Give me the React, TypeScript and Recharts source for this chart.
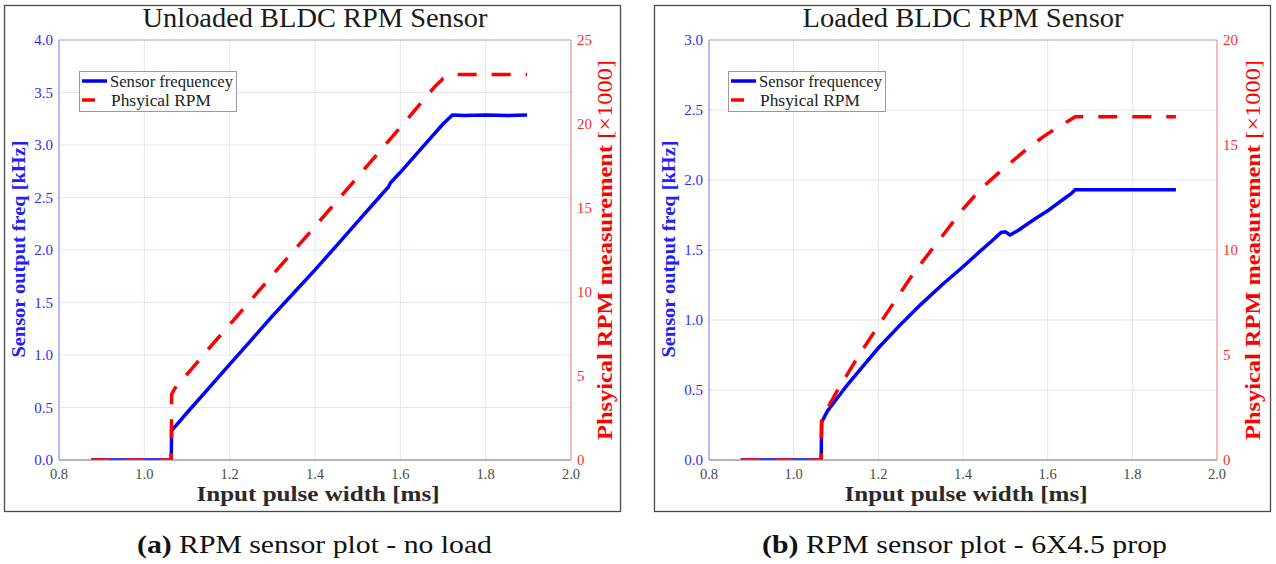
import React from 'react';
import { LineChart, Line, XAxis, YAxis, CartesianGrid, Legend, ReferenceLine } from 'recharts';

const SERIF = "'Liberation Serif', 'DejaVu Serif', serif";

// ---------- shared ----------
const xTicks = [0.8, 1.0, 1.2, 1.4, 1.6, 1.8, 2.0];
const legendLabels = ['Sensor frequencey', 'Phsyical RPM'];

// ---------- panel (a): unloaded ----------
const freqPwA = [0.875, 0.95, 1.0, 1.063, 1.064, 1.1, 1.15, 1.2, 1.25, 1.3, 1.35, 1.4, 1.45, 1.5, 1.55, 1.572, 1.577, 1.6, 1.65, 1.7, 1.722, 1.75, 1.8, 1.85, 1.897];
const freqA = [0, 0, 0, 0, 0.28, 0.45, 0.68, 0.91, 1.14, 1.37, 1.59, 1.81, 2.04, 2.27, 2.5, 2.6, 2.64, 2.74, 2.97, 3.2, 3.285, 3.28, 3.285, 3.28, 3.285];
const rpmPwA = [0.875, 0.95, 1.0, 1.063, 1.064, 1.07, 1.08, 1.1, 1.15, 1.2, 1.3, 1.4, 1.5, 1.6, 1.65, 1.68, 1.7, 1.72, 1.8, 1.897];
const rpmA = [0, 0, 0, 0, 3.9, 4.2, 4.55, 5.1, 6.6, 8.05, 11.0, 13.9, 16.85, 19.8, 21.3, 22.2, 22.7, 22.95, 22.95, 22.95];
const leftTicksA = [0, 0.5, 1.0, 1.5, 2.0, 2.5, 3.0, 3.5, 4.0];
const rightTicksA = [0, 5, 10, 15, 20, 25];

// ---------- panel (b): loaded ----------
const freqPwB = [0.875, 0.95, 1.0, 1.065, 1.066, 1.08, 1.1, 1.125, 1.15, 1.2, 1.25, 1.3, 1.35, 1.4, 1.44, 1.47, 1.49, 1.5, 1.511, 1.53, 1.566, 1.6, 1.645, 1.655, 1.665, 1.7, 1.8, 1.903];
const freqB = [0, 0, 0, 0, 0.27, 0.35, 0.43, 0.53, 0.62, 0.8, 0.96, 1.11, 1.25, 1.38, 1.49, 1.57, 1.625, 1.63, 1.607, 1.64, 1.714, 1.78, 1.88, 1.9, 1.93, 1.93, 1.93, 1.93];
const rpmPwB = [0.875, 0.95, 1.0, 1.065, 1.066, 1.082, 1.1, 1.157, 1.204, 1.283, 1.362, 1.4, 1.44, 1.48, 1.511, 1.55, 1.59, 1.62, 1.645, 1.665, 1.7, 1.8, 1.903];
const rpmB = [0, 0, 0, 0, 1.95, 2.54, 3.2, 5.08, 6.51, 8.89, 10.95, 11.95, 12.86, 13.6, 14.13, 14.8, 15.4, 15.8, 16.1, 16.35, 16.35, 16.35, 16.35];
const leftTicksB = [0, 0.5, 1.0, 1.5, 2.0, 2.5, 3.0];
const rightTicksB = [0, 5, 10, 15, 20];

const toRows = (xs: number[], ys: number[]) => xs.map((x, i) => ({ pw: x, v: ys[i] }));

type PanelProps = {
  left: number;
  title: string;
  titleLen: number;
  titleX: number;
  capTag: string;
  capText: string;
  capX: number;
  capLen: number;
  freq: { pw: number; v: number }[];
  rpm: { pw: number; v: number }[];
  leftTicks: number[];
  rightTicks: number[];
  leftW: number;
  rightMargin: number;
  boxX: number;
  yLabelX: number;
  rLabelX: number;
  xLabelX: number;
  legendX: number;
};

const LegendBox = () => (
  <svg width={159} height={42} style={{ display: 'block' }}>
    <rect x={0.5} y={0.5} width={157} height={40} fill="#ffffff" stroke="#9a9a9a" strokeWidth={1} />
    <line x1={3} x2={28} y1={10} y2={10} stroke="#0000ff" strokeWidth={3.5} />
    <text x={31} y={15.5} fontFamily={SERIF} fontSize={17} fill="#222" textLength={123} lengthAdjust="spacingAndGlyphs">{legendLabels[0]}</text>
    <line x1={3} x2={16} y1={29} y2={29} stroke="#ff0000" strokeWidth={3.5} />
    <text x={32} y={34.5} fontFamily={SERIF} fontSize={17} fill="#222" textLength={100} lengthAdjust="spacingAndGlyphs">{legendLabels[1]}</text>
  </svg>
);

const Panel = (p: PanelProps) => {
  const W = 638;
  const H = 564;
  const leftMax = p.leftTicks[p.leftTicks.length - 1];
  return (
    <div style={{ position: 'absolute', left: p.left, top: 0, width: W, height: H }}>
      <LineChart width={W} height={H} margin={{ top: 40, right: p.rightMargin, bottom: 74, left: 0 }}>
        <rect x={p.boxX} y={5.5} width={616} height={506} fill="none" stroke="#4a4a4a" strokeWidth={1.3} />
        <CartesianGrid yAxisId="left" vertical={false} stroke="#e3e3fa" />
        <CartesianGrid yAxisId="left" horizontal={false} stroke="#e6e6ec" />
        <XAxis
          dataKey="pw"
          type="number"
          domain={[0.8, 2.0]}
          ticks={xTicks}
          allowDataOverflow
          tickFormatter={(v: number) => v.toFixed(1)}
          height={30}
          tickLine={false}
          tickSize={0}
          tickMargin={9}
          axisLine={{ stroke: '#7a7a7a' }}
          tick={{ fill: '#4a4a4a', fontSize: 14.5, fontFamily: SERIF }}
        />
        <YAxis
          yAxisId="left"
          orientation="left"
          type="number"
          domain={[0, leftMax]}
          ticks={p.leftTicks}
          allowDataOverflow
          tickFormatter={(v: number) => v.toFixed(1)}
          width={p.leftW}
          tickLine={false}
          tickSize={0}
          tickMargin={6}
          axisLine={{ stroke: '#8080ff' }}
          tick={{ fill: '#2b2bff', fontSize: 15, fontFamily: SERIF }}
        />
        <YAxis
          yAxisId="right"
          orientation="right"
          type="number"
          domain={[0, p.rightTicks[p.rightTicks.length - 1]]}
          ticks={p.rightTicks}
          allowDataOverflow
          width={55}
          tickLine={false}
          tickSize={0}
          tickMargin={6}
          axisLine={{ stroke: '#ff8080' }}
          tick={{ fill: '#ff2b2b', fontSize: 15, fontFamily: SERIF }}
        />
        <ReferenceLine yAxisId="left" y={leftMax} stroke="#b0b0b0" />
        <Line yAxisId="left" data={p.freq} dataKey="v" type="linear" stroke="#0000ff" strokeWidth={3.5} dot={false} activeDot={false} isAnimationActive={false} />
        <Line yAxisId="right" data={p.rpm} dataKey="v" type="linear" stroke="#ff0000" strokeWidth={3.5} strokeDasharray="19 15" dot={false} activeDot={false} isAnimationActive={false} />
        <Legend
          content={() => <LegendBox />}
          layout="horizontal"
          verticalAlign="middle"
          align="center"
          wrapperStyle={{ left: p.legendX, top: 71, width: 159, height: 42 }}
        />
        <text x={p.titleX} y={27} textAnchor="middle" fontFamily={SERIF} fontSize={27} fill="#1a1a1a" textLength={p.titleLen} lengthAdjust="spacingAndGlyphs">{p.title}</text>
        <text
          x={p.yLabelX}
          y={249}
          transform={`rotate(-90, ${p.yLabelX}, 249)`}
          textAnchor="middle"
          dominantBaseline="central"
          fontFamily={SERIF}
          fontWeight="bold"
          fontSize={19}
          fill="#2020ff"
          textLength={217}
          lengthAdjust="spacingAndGlyphs"
        >
          Sensor output freq [kHz]
        </text>
        <text
          x={p.rLabelX}
          y={250}
          transform={`rotate(-90, ${p.rLabelX}, 250)`}
          textAnchor="middle"
          dominantBaseline="central"
          fontFamily={SERIF}
          fontSize={21}
          fill="#ff0000"
          textLength={380}
          lengthAdjust="spacingAndGlyphs"
        >
          <tspan fontWeight="bold">Phsyical RPM measurement</tspan>
          <tspan> [×1000]</tspan>
        </text>
        <text x={p.xLabelX} y={501} textAnchor="middle" fontFamily={SERIF} fontWeight="bold" fontSize={21} fill="#2a2a2a" textLength={243} lengthAdjust="spacingAndGlyphs">
          Input pulse width [ms]
        </text>
        <text x={p.capX} y={553} textAnchor="middle" fontFamily={SERIF} fontSize={25} fill="#111" textLength={p.capLen} lengthAdjust="spacingAndGlyphs">
          <tspan fontWeight="bold">{p.capTag}</tspan>
          <tspan>{' ' + p.capText}</tspan>
        </text>
      </LineChart>
    </div>
  );
};

export default function App() {
  return (
    <div style={{ position: 'absolute', left: 0, top: 0, width: 1276, height: 564, background: '#ffffff', overflow: 'hidden' }}>
      <Panel
        left={0}
        title="Unloaded BLDC RPM Sensor"
        titleLen={345}
        titleX={315}
        capTag="(a)"
        capText="RPM sensor plot - no load"
        capX={314.5}
        capLen={355}
        freq={toRows(freqPwA, freqA)}
        rpm={toRows(rpmPwA, rpmA)}
        leftTicks={leftTicksA}
        rightTicks={rightTicksA}
        leftW={59}
        rightMargin={12}
        boxX={4.5}
        yLabelX={18}
        rLabelX={605}
        xLabelX={318}
        legendX={79}
      />
      <Panel
        left={638}
        title="Loaded BLDC RPM Sensor"
        titleLen={321}
        titleX={325}
        capTag="(b)"
        capText="RPM sensor plot - 6X4.5 prop"
        capX={326.5}
        capLen={405}
        freq={toRows(freqPwB, freqB)}
        rpm={toRows(rpmPwB, rpmB)}
        leftTicks={leftTicksB}
        rightTicks={rightTicksB}
        leftW={71}
        rightMargin={4}
        boxX={16.5}
        yLabelX={30}
        rLabelX={615}
        xLabelX={328}
        legendX={90}
      />
    </div>
  );
}
